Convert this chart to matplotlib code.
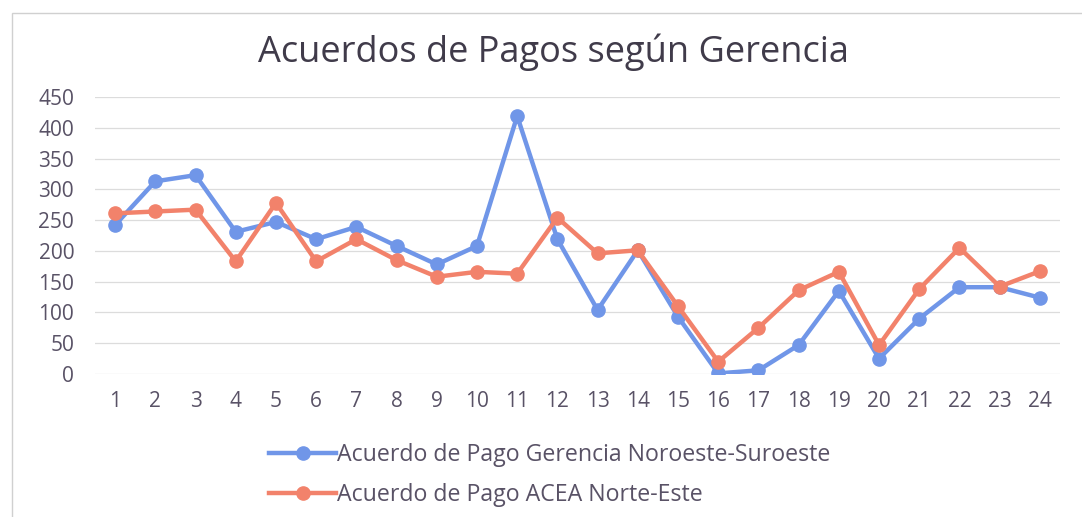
import numpy as np
import matplotlib
matplotlib.use('Agg')
import matplotlib.pyplot as plt
from matplotlib.patches import Rectangle

plt.rcParams['font.family'] = ['Open Sans', 'DejaVu Sans']

# data
periodos = list(range(1, 25))
noroeste_suroeste = [242, 313, 323, 231, 247, 219, 239, 208, 178, 208, 419, 219,
                     104, 201, 93, 1, 6, 47, 135, 25, 90, 141, 141, 124]
acea_norte_este = [261, 264, 267, 183, 278, 183, 219, 185, 158, 166, 163, 254,
                   196, 201, 110, 20, 75, 136, 166, 47, 138, 205, 142, 167]
y_ticks = [0, 50, 100, 150, 200, 250, 300, 350, 400, 450]

label_a = 'Acuerdo de Pago Gerencia Noroeste-Suroeste'
label_b = 'Acuerdo de Pago ACEA Norte-Este'
azul = '#7096e8'
naranja = '#f2826b'
texto = '#595266'

W, H = 1082, 517
fig = plt.figure(figsize=(W / 100, H / 100), dpi=100)

# chart border
fig.patches.append(Rectangle((12 / W, -0.01), (W - 10) / W, (H - 13) / H + 0.01,
                             transform=fig.transFigure, fill=False,
                             edgecolor='#d0d0d0', linewidth=1))

ax = fig.add_axes([95 / W, 1 - 374 / H, (1060 - 95) / W, (374 - 97) / H])

ax.plot(periodos, noroeste_suroeste, '-o', color=azul, lw=3.2, ms=9.5, label=label_a, zorder=3)
ax.plot(periodos, acea_norte_este, '-o', color=naranja, lw=3.2, ms=9.5, label=label_b, zorder=4)

ax.set_xlim(0.5, 24.5)
ax.set_ylim(0, 450)
ax.set_yticks(y_ticks)
ax.set_xticks(periodos)
ax.grid(axis='y', color='#dcdcdc', lw=0.9)
ax.set_axisbelow(True)
for s in ax.spines.values():
    s.set_visible(False)
ax.tick_params(length=0, labelsize=15, labelcolor=texto)
ax.tick_params(axis='y', pad=15)
ax.tick_params(axis='x', pad=12)

fig.text(553 / W, 1 - 52 / H, 'Acuerdos de Pagos según Gerencia',
         ha='center', va='center', fontsize=26, color='#403b4a')

leg = fig.legend(loc='upper left', bbox_to_anchor=(248 / W, 1 - 422 / H),
                 frameon=False, fontsize=16.7, labelcolor=texto,
                 handlelength=2.9, handletextpad=0.05, labelspacing=0.7)

fig.savefig('out.png', dpi=100)
